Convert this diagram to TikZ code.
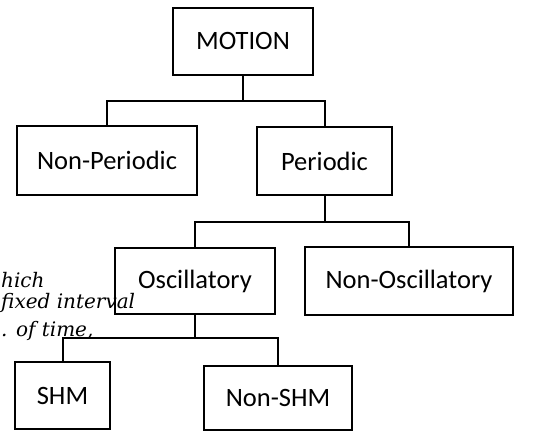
\documentclass[tikz,border=0pt]{standalone}
\usepackage{fontspec}
\setmainfont{Carlito}
\newfontfamily\handfont{DejaVu Serif}
\usepackage{tikz}
\usetikzlibrary{positioning}

\begin{document}
\begin{tikzpicture}[
  x=1pt, y=-1pt,
  box/.style={draw, line width=2pt, minimum height=67pt, text centered,
              font=\fontsize{26.5}{30}\selectfont, inner sep=4pt},
  conn/.style={line width=2pt},
  note/.style={anchor=west, font=\handfont\itshape\fontsize{20}{22}\selectfont, inner sep=0pt}
]
\useasboundingbox[fill=white] (0,0) rectangle (547,432);

%% Root
\node[box, minimum width=140pt] (motion) at (243,41) {MOTION};

%% First level
\node[box, minimum width=180pt, minimum height=69pt] (nonper) at (107,160.5) {Non-Periodic};
\node[box, minimum width=135pt, minimum height=68pt] (per) at (324.5,161) {Periodic};
\draw[conn] (motion.south) -- ++(0,25) -| (nonper.north);
\draw[conn] (motion.south) -- ++(0,25) -| (per.north);

%% Second level
\node[box, minimum width=160pt, minimum height=66pt] (osc) at (195,281) {Oscillatory};
\node[box, minimum width=208pt, minimum height=68pt] (nonosc) at (409,281) {Non-Oscillatory};
\draw[conn] (per.south) -- ++(0,26) -| (osc.north);
\draw[conn] (per.south) -- ++(0,26) -| (nonosc.north);

%% Third level
\node[box, minimum width=95pt] (shm) at (62.5,395.5) {SHM};
\node[box, minimum width=148pt, minimum height=64pt] (nonshm) at (278,398) {Non-SHM};
\draw[conn] (osc.south) -- ++(0,23) -| (shm.north);
\draw[conn] (osc.south) -- ++(0,23) -| (nonshm.north);

%% Handwritten note
\node[note] (nt1) at (1,280) {hich};
\node[note] (nt2) at (1,303) {fixed interval};
\node[note] (nt3) at (1,331) {. of time,};
\end{tikzpicture}
\end{document}
